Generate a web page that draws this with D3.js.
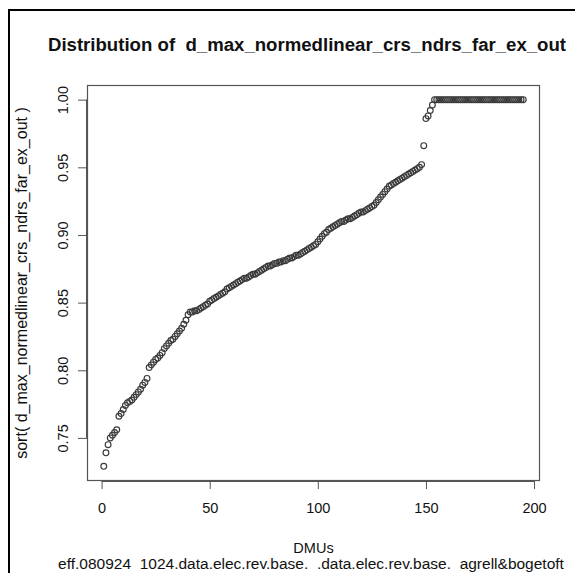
<!DOCTYPE html>
<html>
<head>
<meta charset="utf-8">
<script src="https://cdn.jsdelivr.net/npm/d3@7"></script>
<style>
  html, body { margin: 0; padding: 0; background: #fff; }
  svg { display: block; }
  text { font-family: "Liberation Sans", Arial, sans-serif; fill: #111; white-space: pre; }
</style>
</head>
<body>
<svg id="chart" width="575" height="573"></svg>
<script>
// Sorted efficiency scores, one per DMU (index 1..195)
const effLow = [
  0.729, 0.739, 0.745, 0.750, 0.752, 0.754, 0.756, 0.766, 0.768, 0.771,
  0.774, 0.776, 0.777, 0.778, 0.780, 0.782, 0.784, 0.786, 0.789, 0.791,
  0.794, 0.802, 0.804, 0.806, 0.808, 0.809, 0.811, 0.813, 0.816, 0.818,
  0.820, 0.822, 0.823, 0.825, 0.827, 0.829, 0.831, 0.834, 0.837, 0.841,
  0.843, 0.843, 0.844, 0.844, 0.845, 0.846, 0.847, 0.848, 0.849, 0.851
];
const effMid = [
  0.852, 0.853, 0.854, 0.855, 0.856, 0.857, 0.858, 0.860, 0.861, 0.862,
  0.863, 0.864, 0.865, 0.866, 0.867, 0.868, 0.868, 0.869, 0.870, 0.871,
  0.871, 0.872, 0.873, 0.874, 0.875, 0.876, 0.877, 0.877, 0.878, 0.879,
  0.879, 0.880, 0.880, 0.881, 0.881, 0.882, 0.883, 0.883, 0.884, 0.885,
  0.885, 0.886, 0.887, 0.888, 0.889, 0.890, 0.891, 0.892, 0.893, 0.895
];
const effHigh = [
  0.897, 0.899, 0.901, 0.902, 0.904, 0.905, 0.906, 0.907, 0.908, 0.909,
  0.910, 0.910, 0.911, 0.912, 0.912, 0.913, 0.914, 0.915, 0.916, 0.917,
  0.917, 0.918, 0.919, 0.920, 0.921, 0.922, 0.924, 0.926, 0.928, 0.930,
  0.932, 0.934, 0.936, 0.937, 0.938, 0.939, 0.940, 0.941, 0.942, 0.943,
  0.944, 0.945, 0.946, 0.947, 0.948, 0.949, 0.950, 0.952, 0.966, 0.986,
  0.988, 0.992, 0.996
];
// DMUs on the frontier (score 1.00)
const effFrontier = [
  1, 1, 1, 1, 1, 1, 1, 1, 1, 1, 1, 1, 1, 1, 1, 1, 1, 1, 1, 1, 1,
  1, 1, 1, 1, 1, 1, 1, 1, 1, 1, 1, 1, 1, 1, 1, 1, 1, 1, 1, 1, 1
];
const xTicks = [0, 50, 100, 150, 200];
const yTicks = [0.75, 0.80, 0.85, 0.90, 0.95, 1.00];

const titleText = "Distribution of  d_max_normedlinear_crs_ndrs_far_ex_out";
const xLabel = "DMUs";
const subText = "eff.080924  1024.data.elec.rev.base.  .data.elec.rev.base.  agrell&bogetoft";
const yLabel = "sort( d_max_normedlinear_crs_ndrs_far_ex_out )";

const values = effLow.concat(effMid, effHigh, effFrontier);
const points = values.map((v, i) => ({ idx: i + 1, v }));

const svg = d3.select("#chart");
const box = { left: 87, right: 540, top: 85, bottom: 481 };

// Axis ranges padded by 4% on each side
const pad = (lo, hi) => { const r = hi - lo; return [lo - 0.04 * r, hi + 0.04 * r]; };
const x = d3.scaleLinear().domain(pad(1, points.length)).range([box.left, box.right]);
const y = d3.scaleLinear().domain(pad(d3.min(values), d3.max(values))).range([box.bottom, box.top]);

// Outer frame (top and left edges)
svg.append("rect").attr("x", 8).attr("y", 9).attr("width", 567).attr("height", 2).attr("fill", "#000");
svg.append("rect").attr("x", 8).attr("y", 9).attr("width", 2).attr("height", 564).attr("fill", "#000");

const lineColor = "#555";

// X axis
const gx = svg.append("g")
  .attr("transform", `translate(0,${box.bottom})`)
  .call(d3.axisBottom(x).tickValues(xTicks).tickSize(8).tickSizeOuter(0).tickPadding(14).tickFormat(d3.format("d")));
gx.select(".domain").attr("d", `M${x(xTicks[0])},0.5H${x(xTicks[xTicks.length - 1])}`).attr("stroke", lineColor);
gx.selectAll(".tick line").attr("stroke", lineColor);
gx.selectAll(".tick text").attr("font-size", 14.5).attr("fill", "#111")
  .attr("font-family", "Liberation Sans, Arial, sans-serif");

// Y axis, labels parallel to the axis
const gy = svg.append("g")
  .attr("transform", `translate(${box.left},0)`)
  .call(d3.axisLeft(y).tickValues(yTicks).tickSize(9).tickSizeOuter(0).tickFormat(d3.format(".2f")));
gy.select(".domain").attr("d", `M-0.5,${y(yTicks[0])}V${y(yTicks[yTicks.length - 1])}`).attr("stroke", lineColor);
gy.selectAll(".tick line").attr("stroke", lineColor);
gy.selectAll(".tick text")
  .attr("x", null).attr("dy", null)
  .attr("text-anchor", "middle")
  .attr("transform", "translate(-19,0) rotate(-90)")
  .attr("font-size", 14.5).attr("fill", "#111")
  .attr("font-family", "Liberation Sans, Arial, sans-serif");

// Plot box
svg.append("rect")
  .attr("x", box.left + 0.5).attr("y", box.top + 0.5)
  .attr("width", box.right - box.left - 1).attr("height", box.bottom - box.top - 1)
  .attr("fill", "none").attr("stroke", lineColor).attr("stroke-width", 1.2);

// Points as open circles
svg.append("g").selectAll("circle").data(points).join("circle")
  .attr("cx", d => x(d.idx))
  .attr("cy", d => y(d.v))
  .attr("r", 2.9)
  .attr("fill", "none")
  .attr("stroke", "#3a3a3a")
  .attr("stroke-width", 1.15);

// Text helper: scale font so the string spans a given width
function fitText(sel, width) {
  const n = sel.node();
  const fs = parseFloat(sel.attr("font-size"));
  const w = n.getComputedTextLength();
  sel.attr("font-size", (fs * width / w).toFixed(2));
}

const title = svg.append("text")
  .attr("x", 307).attr("y", 51)
  .attr("text-anchor", "middle")
  .attr("font-size", 17).attr("font-weight", "bold")
  .text(titleText);
fitText(title, 518);

svg.append("text")
  .attr("x", (box.left + box.right) / 2).attr("y", 553)
  .attr("text-anchor", "middle")
  .attr("font-size", 14.5)
  .text(xLabel);

const sub = svg.append("text")
  .attr("x", 311).attr("y", 569)
  .attr("text-anchor", "middle")
  .attr("font-size", 14)
  .text(subText);
fitText(sub, 506);

const yl = svg.append("text")
  .attr("transform", `translate(27,${(box.top + box.bottom) / 2}) rotate(-90)`)
  .attr("text-anchor", "middle")
  .attr("font-size", 14)
  .text(yLabel);
fitText(yl, 352);
</script>
</body>
</html>
